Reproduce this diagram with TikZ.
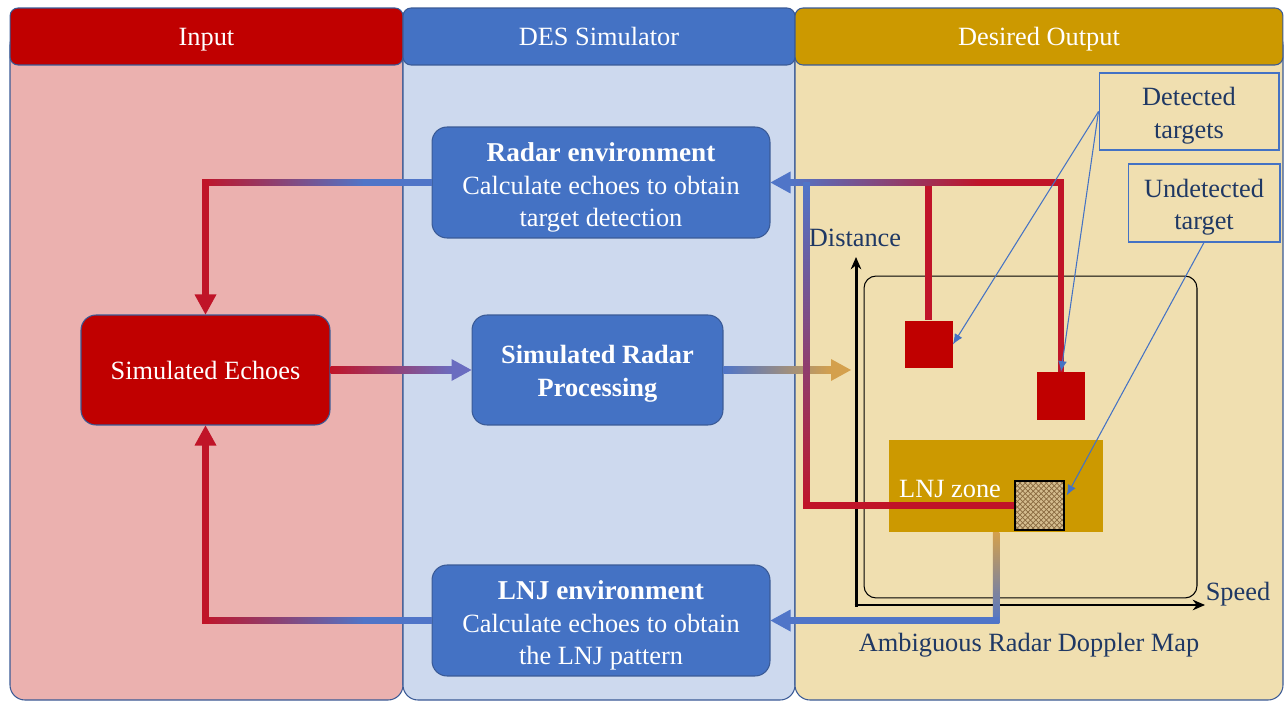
\documentclass[tikz,border=0pt]{standalone}
\usepackage{fontspec}
\setmainfont{Liberation Serif}
\usetikzlibrary{calc,patterns,arrows.meta}
\definecolor{inred}{HTML}{C00000}
\definecolor{inpink}{HTML}{EBB1AF}
\definecolor{desblue}{HTML}{4472C4}
\definecolor{deslight}{HTML}{CDD9EE}
\definecolor{outgold}{HTML}{CC9900}
\definecolor{outlight}{HTML}{F0DFB0}
\definecolor{edgeblue}{HTML}{3A5A96}
\definecolor{navy}{HTML}{1F3864}
\definecolor{lred}{HTML}{C01428}
\definecolor{lblue}{HTML}{5075C8}
\definecolor{lpurple}{HTML}{6A6CC0}
\definecolor{lgold}{HTML}{D4A04C}
\definecolor{burlap}{HTML}{D4BC8E}
\definecolor{burlapdark}{HTML}{8A6A40}
\newcommand{\lhw}{3.25}
\tikzset{
  colbody/.style={draw=edgeblue, line width=0.6pt, rounded corners=0.3cm},
  header/.style={draw=edgeblue, line width=0.6pt, rounded corners=0.16cm, text=white, minimum height=1.14cm, inner sep=0pt, text height=14pt, text depth=3.5pt},
  procbox/.style={draw=edgeblue, line width=0.6pt, rounded corners=0.3cm, text=white, align=center, inner sep=0pt},
  target/.style={fill=inred, minimum size=0.96cm, inner sep=0pt},
  callbox/.style={draw=desblue, line width=0.6pt, text=navy, align=center, inner sep=0pt},
  callout/.style={draw=desblue, line width=0.6pt, -{Latex[length=6pt,width=5pt]}},
  axisline/.style={line width=1.7pt, -{Stealth[length=7pt,width=6pt]}},
  maplabel/.style={text=navy, inner sep=0pt},
  burlapsq/.style={draw=black, line width=0.8pt, minimum size=0.98cm, inner sep=0pt,
      preaction={fill=burlap}, pattern=crosshatch, pattern color=burlapdark}
}
\begin{document}
\begin{tikzpicture}[x=0.02cm, y=-0.02cm, font=\fontsize{15}{18.5}\selectfont]
\useasboundingbox (0,0) rectangle (1284,702);
% column bodies
\path[colbody, fill=inpink] (10,30) rectangle (403,700);
\path[colbody, fill=deslight] (403,30) rectangle (795,700);
\path[colbody, fill=outlight] (795,30) rectangle (1283,700);
% headers
\node[header, fill=inred, minimum width=7.86cm] (hin) at (206.5,36.5) {Input};
\node[header, fill=desblue, minimum width=7.84cm] (hdes) at (599,36.5) {DES Simulator};
\node[header, fill=outgold, minimum width=9.76cm] (hout) at (1039,36.5) {Desired Output};
% process boxes
\node[procbox, fill=desblue, minimum width=6.76cm, minimum height=2.22cm] (radar) at (601,182.5)
  {\rule{0pt}{16.5pt}{\fontsize{15.5}{18.5}\selectfont\bfseries Radar environment}\\Calculate echoes to obtain\\target detection};
\node[procbox, fill=desblue, minimum width=5.02cm, minimum height=2.2cm] (srp) at (597.5,370)
  {\rule{0pt}{14.5pt}\bfseries Simulated Radar\\\bfseries Processing};
\node[procbox, fill=desblue, minimum width=6.76cm, minimum height=2.22cm] (lnj) at (601,620.5)
  {\rule{0pt}{16.5pt}{\fontsize{15.5}{18.5}\selectfont\bfseries LNJ environment}\\Calculate echoes to obtain\\the LNJ pattern};
\node[procbox, fill=inred, minimum width=4.98cm, minimum height=2.2cm] (echo) at (205.5,370)
  {Simulated Echoes};
% map
\node[draw=black, line width=0.6pt, rounded corners=0.24cm, minimum width=6.66cm, minimum height=6.44cm] (frame) at (1030.5,437) {};
\coordinate (O) at (856,605);
\coordinate (ytip) at (856,257);
\coordinate (xtip) at (1205,605);
\draw[axisline] ($(O)+(0,1.5)$) -- (ytip);
\draw[axisline] ($(O)+(-1.5,0)$) -- (xtip);
\node[maplabel] (dist) at (855,238) {Distance};
\node[maplabel] (speed) at (1238,594) {Speed};
\node[maplabel] (ardm) at (1029,645) {Ambiguous Radar Doppler Map};
\node[target] (sq1) at (928.5,344.5) {};
\node[target] (sq2) at (1061,396) {};
\node[fill=outgold, minimum width=4.28cm, minimum height=1.84cm, inner sep=0pt] (zone) at (996,486) {};
\node[text=white, inner sep=0pt] (zonetext) at (950,489) {LNJ zone};
% callout boxes
\node[callbox, minimum width=3.6cm, minimum height=1.54cm] (det) at (1189,111.5) {\rule{0pt}{15pt}Detected\\targets};
\node[callbox, minimum width=3.04cm, minimum height=1.56cm] (undet) at (1204,203) {\rule{0pt}{15pt}Undetected\\target};

% connector A: radar env -> simulated echoes
\coordinate (a1) at (echo.north |- radar.west);
\coordinate (a2) at ($(a1)!0.7!(radar.west)$);
\shade[left color=lred, right color=lblue] ($(a1)+(-\lhw,-\lhw)$) rectangle ($(a2)+(0,\lhw)$);
\fill[lblue] ($(a2)+(-0.5,-\lhw)$) rectangle ($(radar.west)+(0,\lhw)$);
\fill[lred] ($(a1)+(-\lhw,-\lhw)$) rectangle ($(echo.north)+(\lhw,-19)$);
\fill[lred] (echo.north) -- ++(-11,-20) -- ++(22,0) -- cycle;

% connector B: simulated echoes -> simulated radar processing
\shade[left color=lred, right color=lpurple] ($(echo.east)+(0,-\lhw)$) rectangle ($(srp.west)+(-19,\lhw)$);
\fill[lpurple] (srp.west) -- ++(-20,-11) -- ++(0,22) -- cycle;

% connector C: simulated radar processing -> map
\coordinate (c2) at ($(O |- srp.east)+(-5,0)$);
\shade[left color=lblue, right color=lgold] ($(srp.east)+(0,-\lhw)$) rectangle ($(c2)+(-19,\lhw)$);
\fill[lgold] (c2) -- ++(-20,-11) -- ++(0,22) -- cycle;

% connector D: LNJ env -> simulated echoes
\coordinate (d1) at (echo.south |- lnj.west);
\coordinate (d2) at ($(d1)!0.7!(lnj.west)$);
\shade[left color=lred, right color=lblue] ($(d1)+(-\lhw,-\lhw)$) rectangle ($(d2)+(0,\lhw)$);
\fill[lblue] ($(d2)+(-0.5,-\lhw)$) rectangle ($(lnj.west)+(0,\lhw)$);
\fill[lred] ($(d1)+(-\lhw,\lhw)$) rectangle ($(echo.south)+(\lhw,19)$);
\fill[lred] (echo.south) -- ++(-11,20) -- ++(22,0) -- cycle;

% pattern square (undetected target)
\node[burlapsq] (pat) at (1039.5,505.5) {};

% connector E: targets -> radar env
\coordinate (e1) at (sq1.north |- radar.east);
\coordinate (e2) at (sq2.north |- radar.east);
\coordinate (e3) at ($(radar.east)+(36,0)$);
\coordinate (e4) at (e3 |- pat.west);
\coordinate (e5) at ($(radar.east)+(19,0)$);
\coordinate (e6) at ($(e2)+(-80,0)$);
\fill[lred] ($(e1)+(-\lhw,-\lhw)$) rectangle ($(sq1.north)+(\lhw,0)$);
\fill[lred] ($(e2)+(-\lhw,-\lhw)$) rectangle ($(sq2.north)+(\lhw,0)$);
\shade[left color=lblue, right color=lred] ($(e5)+(0,-\lhw)$) rectangle ($(e6)+(0,\lhw)$);
\fill[lred] ($(e6)+(-0.5,-\lhw)$) rectangle ($(e2)+(\lhw,\lhw)$);
\shade[top color=lblue, bottom color=lred] ($(e3)+(-\lhw,0)$) rectangle ($(e4)+(\lhw,\lhw)$);
\fill[lred] ($(e4)+(-\lhw,-\lhw)$) rectangle ($(pat.west)+(0,\lhw)$);
\fill[lblue] (radar.east) -- ++(20,-11) -- ++(0,22) -- cycle;
\node[burlapsq] at (pat) {};

% connector F: LNJ zone -> LNJ env
\coordinate (f1) at (zone.south |- lnj.east);
\shade[top color=lgold, bottom color=lblue] ($(zone.south)+(-\lhw,0)$) rectangle ($(f1)+(\lhw,\lhw)$);
\fill[lblue] ($(f1)+(\lhw,-\lhw)$) rectangle ($(lnj.east)+(19,\lhw)$);
\fill[lblue] (lnj.east) -- ++(20,-11) -- ++(0,22) -- cycle;

% callouts
\draw[callout] (det.west) -- (sq1.east);
\draw[callout] (det.west) -- (sq2.north);
\draw[callout] (undet.south) -- ($(pat.east)+(2,-10)$);
\end{tikzpicture}
\end{document}
